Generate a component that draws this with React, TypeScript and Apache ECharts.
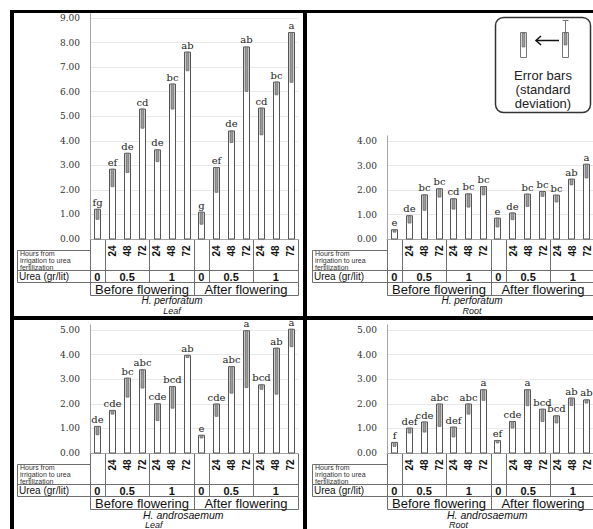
import React, { useEffect, useRef } from 'react';
import * as echarts from 'echarts';

// ---------- data ----------
const hoursLabels = ['', '24', '48', '72', '24', '48', '72', '', '24', '48', '72', '24', '48', '72'];
const ureaLabels = ['0', '0.5', '1', '0', '0.5', '1'];
const ureaSpans = [1, 3, 3, 1, 3, 3];
const seasonLabels = ['Before flowering', 'After flowering'];
const seasonSpans = [7, 7];
const hoursRowTitle = ['Hours from', 'irrigation to urea', 'fertilization'];
const ureaRowTitle = 'Urea (gr/lit)';
const speciesNames = ['H. perforatum', 'H. perforatum', 'H. androsaemum', 'H. androsaemum'];
const organNames = ['Leaf', 'Root', 'Leaf', 'Root'];
const yMaxes = [9, 4, 5, 5];
const legendLines = ['Error bars', '(standard', 'deviation)'];

const perfLeafTop = [1.21, 2.84, 3.49, 5.29, 3.63, 6.31, 7.61, 1.09, 2.91, 4.40, 7.82, 5.33, 6.39, 8.41];
const perfLeafLow = [0.80, 2.13, 2.71, 4.51, 3.15, 5.29, 6.85, 0.60, 1.90, 3.93, 6.01, 4.24, 5.87, 6.38];
const perfLeafLetters = ['fg', 'ef', 'de', 'cd', 'de', 'bc', 'ab', 'g', 'ef', 'de', 'ab', 'cd', 'bc', 'a'];

const perfRootTop = [0.38, 0.95, 1.80, 2.05, 1.64, 1.84, 2.14, 0.85, 1.06, 1.83, 1.94, 1.79, 2.44, 3.05];
const perfRootLow = [0.28, 0.65, 1.17, 1.71, 1.22, 1.30, 1.80, 0.49, 0.79, 1.33, 1.74, 1.51, 2.21, 2.49];
const perfRootLetters = ['e', 'de', 'bc', 'bc', 'cd', 'bc', 'bc', 'e', 'de', 'bc', 'bc', 'bc', 'ab', 'a'];

const androLeafTop = [1.08, 1.73, 3.04, 3.38, 2.00, 2.70, 3.97, 0.72, 1.99, 3.51, 4.97, 2.77, 4.26, 5.03];
const androLeafLow = [0.74, 1.58, 2.27, 2.64, 1.32, 1.82, 3.88, 0.61, 1.49, 2.43, 2.66, 2.59, 2.39, 4.32];
const androLeafLetters = ['de', 'cde', 'bc', 'abc', 'cde', 'bcd', 'ab', 'e', 'cde', 'abc', 'a', 'bcd', 'ab', 'a'];

const androRootTop = [0.43, 1.01, 1.26, 1.99, 1.05, 1.99, 2.57, 0.51, 1.28, 2.57, 1.78, 1.51, 2.23, 2.16];
const androRootLow = [0.27, 0.81, 0.85, 1.08, 0.65, 1.58, 2.14, 0.41, 1.01, 1.92, 1.28, 1.22, 1.93, 2.03];
const androRootLetters = ['f', 'def', 'cde', 'abc', 'def', 'abc', 'a', 'ef', 'cde', 'a', 'bcd', 'bcd', 'ab', 'ab'];

const tops = [perfLeafTop, perfRootTop, androLeafTop, androRootTop];
const lows = [perfLeafLow, perfRootLow, androLeafLow, androRootLow];
const letters = [perfLeafLetters, perfRootLetters, androLeafLetters, androRootLetters];

// ---------- layout ----------
const GW = 208;
const panels = [
  { left: 90, top: 18, y0: 239, labW: 73, spX: 82, spAlign: 'center', spFont: 10, orFont: 9 },
  { left: 387, top: 141, y0: 239, labW: 75, spX: 85, spAlign: 'center', spFont: 10, orFont: 9 },
  { left: 90, top: 330, y0: 453, labW: 73, spX: 53, spAlign: 'left', spFont: 10.5, orFont: 9 },
  { left: 387, top: 330, y0: 453, labW: 75, spX: 60, spAlign: 'left', spFont: 10.5, orFont: 9 },
];

const SANS = '"Liberation Sans", Arial, sans-serif';
const SERIF = '"DejaVu Serif", serif';
const LINE = '#6e6e6e';
const AXIS = '#a6a6a6';

const px = (v: number) => Math.round(v) + 0.5;

function tableGraphics(pi: number): any[] {
  const p = panels[pi];
  const cw = GW / hoursLabels.length;
  const xl = p.left;
  const xr = p.left + GW;
  const y0 = p.y0;
  const els: any[] = [];
  const line = (x1: number, y1: number, x2: number, y2: number, color = LINE) =>
    els.push({ type: 'line', silent: true, shape: { x1: px(x1), y1: px(y1), x2: px(x2), y2: px(y2) }, style: { stroke: color, lineWidth: 1 } });
  const text = (t: string, x: number, y: number, font: string, align = 'center', rot = 0, fill = '#111') =>
    els.push({ type: 'text', silent: true, x, y, rotation: rot, style: { text: t, x: 0, y: 0, font, fill, align, verticalAlign: 'middle' } });

  // row lines
  line(xl - p.labW, y0 + 31, xr, y0 + 31);
  line(xl - p.labW, y0 + 43, xr, y0 + 43);
  line(xl, y0 + 56, xr, y0 + 56);
  line(xl - p.labW, y0 + 11, xl, y0 + 11);
  line(xl - p.labW, y0 + 11, xl - p.labW, y0 + 43);

  // group boundaries (hours + urea rows)
  let acc = 0;
  const bounds = [0];
  ureaSpans.forEach((s) => { acc += s; bounds.push(acc); });
  bounds.forEach((b) => line(xl + b * cw, y0, xl + b * cw, y0 + 43));
  ureaLabels.forEach((lab, i) => {
    const c = xl + ((bounds[i] + bounds[i + 1]) / 2) * cw;
    text(lab, c, y0 + 37.5, `bold 11px ${SANS}`);
  });
  // season
  acc = 0;
  const sb = [0];
  seasonSpans.forEach((s) => { acc += s; sb.push(acc); });
  sb.forEach((b) => line(xl + b * cw, y0 + 43, xl + b * cw, y0 + 56));
  seasonLabels.forEach((lab, i) => {
    const c = xl + ((sb[i] + sb[i + 1]) / 2) * cw;
    text(lab, c, y0 + 50, `13px ${SANS}`);
  });
  // hours
  hoursLabels.forEach((h, i) => {
    if (!h) return;
    text(h, xl + (i + 0.5) * cw, y0 + 12, `bold 10px ${SANS}`, 'center', Math.PI / 2);
  });
  // row titles
  els.push({
    type: 'text', silent: true, x: xl - p.labW + 3, y: y0 + 10.8,
    style: { text: hoursRowTitle.join('\n'), x: 0, y: 0, font: `7px ${SANS}`, lineHeight: 7.2, fill: '#333', align: 'left', verticalAlign: 'top' },
  });
  text(ureaRowTitle, xl - p.labW + 2, y0 + 37.6, `10px ${SANS}`, 'left');
  // species / organ
  const sx = xl + p.spX;
  text(speciesNames[pi], sx, y0 + 61.8, `italic ${p.spFont}px ${SANS}`, p.spAlign);
  text(organNames[pi], p.spAlign === 'left' ? sx + 2 : sx, y0 + 71.6, `italic ${p.orFont}px ${SANS}`, p.spAlign);
  // y-axis extension above top tick
  line(xl, p.top - 6, xl, p.top, AXIS);
  return els;
}

function legendGraphics(): any[] {
  const els: any[] = [];
  els.push({ type: 'rect', silent: true, shape: { x: 495.5, y: 17.5, width: 95, height: 95, r: 8 }, style: { fill: 'none', stroke: '#333', lineWidth: 1.5 } });
  els.push({ type: 'rect', silent: true, shape: { x: 520.5, y: 32.5, width: 6, height: 25 }, style: { fill: '#fff', stroke: '#777', lineWidth: 1 } });
  els.push({ type: 'rect', silent: true, shape: { x: 522, y: 33, width: 3, height: 14 }, style: { fill: '#999', stroke: '#666', lineWidth: 0.6 } });
  els.push({ type: 'line', silent: true, shape: { x1: 536, y1: 40.5, x2: 559, y2: 40.5 }, style: { stroke: '#111', lineWidth: 1.5 } });
  els.push({ type: 'polyline', silent: true, shape: { points: [[541, 36], [536, 40.5], [541, 45]] }, style: { stroke: '#111', lineWidth: 1.5, fill: 'none' } });
  els.push({ type: 'rect', silent: true, shape: { x: 562.5, y: 32.5, width: 6, height: 25 }, style: { fill: '#fff', stroke: '#777', lineWidth: 1 } });
  els.push({ type: 'rect', silent: true, shape: { x: 564, y: 33, width: 3, height: 12 }, style: { fill: '#999', stroke: '#666', lineWidth: 0.6 } });
  els.push({ type: 'line', silent: true, shape: { x1: 565.5, y1: 20, x2: 565.5, y2: 32.5 }, style: { stroke: '#777', lineWidth: 1 } });
  els.push({ type: 'line', silent: true, shape: { x1: 562.5, y1: 20.5, x2: 568.5, y2: 20.5 }, style: { stroke: '#777', lineWidth: 1 } });
  legendLines.forEach((t, i) =>
    els.push({ type: 'text', silent: true, x: 543, y: 75 + i * 14, style: { text: t, x: 0, y: 0, font: `13px ${SANS}`, fill: '#222', align: 'center', verticalAlign: 'middle' } })
  );
  return els;
}

function frameGraphics(): any[] {
  const r = (x: number, y: number, w: number, h: number) => ({ type: 'rect', silent: true, shape: { x, y, width: w, height: h }, style: { fill: '#000' } });
  return [r(10, 10, 583, 3), r(10, 10, 4, 519), r(303, 10, 4, 519), r(10, 316, 583, 4)];
}

export default function App() {
  const ref = useRef<HTMLDivElement>(null);
  useEffect(() => {
    if (!ref.current) return;
    const chart = echarts.init(ref.current, undefined, { renderer: 'svg' });
    const idx = hoursLabels.map((_, i) => i);
    const option: any = {
      animation: false,
      backgroundColor: '#fff',
      grid: panels.map((p) => ({ left: p.left, top: p.top, width: GW, height: p.y0 - p.top })),
      xAxis: panels.map((_, i) => ({
        type: 'category', gridIndex: i, data: idx,
        axisLine: { show: true, lineStyle: { color: AXIS } },
        axisTick: { show: false }, axisLabel: { show: false }, splitLine: { show: false },
      })),
      yAxis: panels.map((_, i) => ({
        type: 'value', gridIndex: i, min: 0, max: yMaxes[i], interval: 1,
        axisLine: { show: true, lineStyle: { color: AXIS } },
        axisTick: { show: false },
        axisLabel: { formatter: (v: number) => v.toFixed(2), fontFamily: 'DejaVu Serif', fontSize: 9, color: '#333', margin: 10 },
        splitLine: { lineStyle: { color: '#e8e8e8' } },
      })),
      series: panels.map((_, pi) => ({
        type: 'custom', xAxisIndex: pi, yAxisIndex: pi,
        encode: { x: 0, y: [1, 2] },
        data: tops[pi].map((t, i) => [i, t, lows[pi][i]]),
        renderItem: (params: any, api: any) => {
          const i = api.value(0);
          const pt = api.coord([i, api.value(1)]);
          const pl = api.coord([i, api.value(2)]);
          const pb = api.coord([i, 0]);
          const cx = Math.round(pt[0]);
          return {
            type: 'group',
            children: [
              { type: 'rect', shape: { x: cx - 3 + 0.5, y: pt[1], width: 6, height: pb[1] - pt[1] }, style: { fill: '#fff', stroke: '#555', lineWidth: 1 } },
              { type: 'rect', shape: { x: cx - 1.5 + 0.5, y: pt[1], width: 3, height: pl[1] - pt[1] }, style: { fill: '#9a9a9a', stroke: '#666', lineWidth: 0.7 } },
              { type: 'text', x: cx + 0.5, y: pt[1] - 2, style: { text: letters[pi][params.dataIndex], font: `10px ${SERIF}`, fill: '#222', align: 'center', verticalAlign: 'bottom' } },
            ],
          };
        },
      })),
      graphic: [
        ...panels.flatMap((_, i) => tableGraphics(i)),
        ...legendGraphics(),
        ...frameGraphics(),
      ],
    };
    chart.setOption(option);
    return () => chart.dispose();
  }, []);
  return <div ref={ref} style={{ position: 'absolute', left: 0, top: 0, width: 593, height: 529 }} />;
}
